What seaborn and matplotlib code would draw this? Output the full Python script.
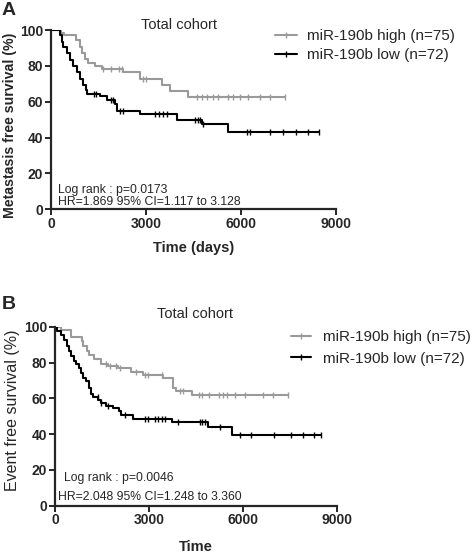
import numpy as np
import pandas as pd
import matplotlib
matplotlib.use("Agg")
import matplotlib.pyplot as plt
import seaborn as sns
from matplotlib.lines import Line2D

# ----------------------------
# Data (Kaplan-Meier steps, percent survival)
# ----------------------------
a_high_t = [0, 330, 400, 790, 915, 970, 1075, 1180, 1390, 1600, 2285, 2810, 3495, 3760, 4340, 7390]
a_high_s = [100, 98.6, 97.3, 94.3, 90.7, 87.0, 84.0, 81.8, 80.0, 78.2, 76.4, 72.9, 69.6, 65.7, 62.5, 62.5]
a_low_t = [0, 285, 335, 390, 495, 600, 705, 810, 915, 1020, 1105, 1150, 1550, 1760, 2020, 2075,
           2810, 3970, 4760, 5600, 8470]
a_low_s = [100, 97.0, 93.5, 90.7, 87.1, 83.5, 80.0, 76.4, 72.9, 69.3, 66.6, 64.5, 63.0, 60.7, 58.9, 55.0,
           53.2, 50.0, 47.3, 43.3, 43.3]
a_high_cens = [1650, 1900, 2150, 2230, 2900, 3000, 4600, 4760, 4920, 5130, 5280, 5600, 5760,
               5970, 6230, 6600, 6920, 7390]
a_low_cens = [1350, 1420, 1880, 1960, 2190, 2280, 3280, 3400, 3550, 3650, 4560, 4650, 4720, 4810,
              6190, 6280, 6900, 7320, 7740, 8110, 8470]

b_high_t = [0, 180, 500, 850, 900, 1020, 1093, 1254, 1468, 1683, 2004, 2433, 2808, 3451, 3773,
            3850, 4362, 7440]
b_high_s = [100, 98.6, 94.6, 91.9, 89.2, 86.6, 84.3, 82.1, 79.5, 78.2, 76.8, 75.0, 73.2, 71.5, 66.0,
            64.4, 61.7, 61.7]
b_low_t = [0, 75, 182, 289, 397, 450, 504, 611, 665, 772, 825, 879, 986, 1093, 1147, 1200, 1361,
           1468, 1629, 1843, 2058, 2111, 2487, 3719, 4898, 5648, 8490]
b_low_s = [100, 98.0, 95.5, 92.8, 89.2, 86.6, 83.9, 81.2, 79.5, 76.8, 74.1, 71.5, 69.7, 66.1, 62.6,
           60.8, 59.0, 57.2, 55.8, 54.6, 52.8, 51.0, 48.7, 46.6, 43.9, 39.6, 39.6]
b_high_cens = [1630, 1740, 1950, 2060, 2590, 2860, 2970, 3400, 3990, 4100, 4580, 4700, 4900,
               5220, 5350, 5500, 5750, 6065, 6650, 6970, 7440]
b_low_cens = [1360, 1470, 1680, 2220, 2860, 2970, 3180, 3290, 3400, 3500, 3930, 4630, 4700, 4790,
              5270, 5900, 6240, 6990, 7530, 7900, 8270, 8490]

x_ticks = [0, 3000, 6000, 9000]
y_ticks = [0, 20, 40, 60, 80, 100]
group_labels = ["miR-190b high (n=75)", "miR-190b low (n=72)"]

GRAY = "#9a9a9a"
BLACK = "#000000"
W, H = 472, 557

sns.set_style("ticks")
plt.rcParams["font.family"] = ["Liberation Sans", "DejaVu Sans"]


def step_frame(times, surv):
    return pd.DataFrame({"time": times, "surv": surv})


def censor_frame(times, surv, cens):
    idx = np.searchsorted(times, cens, side="right") - 1
    return pd.DataFrame({"time": cens, "surv": np.array(surv)[idx]})


def km_panel(ax, curves, ylabel, ylabel_weight, ylabel_size, ylab_xy, xlabel, xlab_y, stats):
    for (t, s, c, color) in curves:
        sns.lineplot(data=step_frame(t, s), x="time", y="surv", ax=ax, color=color,
                     drawstyle="steps-post", estimator=None, sort=False, lw=1.5)
        sns.scatterplot(data=censor_frame(t, s, c), x="time", y="surv", ax=ax, color=color,
                        marker="|", s=16, linewidth=1.0, zorder=3)
    ax.set_xlim(0, 9000)
    ax.set_ylim(0, 100)
    ax.set_xticks(x_ticks)
    ax.set_yticks(y_ticks)
    ax.set_xticklabels([str(v) for v in x_ticks], fontweight="bold", fontsize=10)
    ax.set_yticklabels([str(v) for v in y_ticks], fontweight="bold", fontsize=10)
    ax.tick_params(width=1.4, length=4, pad=1.5)
    for side in ["left", "bottom"]:
        ax.spines[side].set_linewidth(1.6)
    sns.despine(ax=ax)
    ax.set_ylabel(ylabel, fontweight=ylabel_weight, fontsize=ylabel_size)
    ax.yaxis.set_label_coords(*ylab_xy)
    ax.set_xlabel(xlabel, fontweight="bold", fontsize=10.5, va="top")
    ax.xaxis.set_label_coords(0.5, xlab_y)
    for (x, y, s) in stats:
        ax.text(x, y, s, fontsize=8.8, va="center")


fig = plt.figure(figsize=(W / 100, H / 100), dpi=100)

ax_a = fig.add_axes([51 / W, 1 - 209.3 / H, 285 / W, 179.3 / H])
km_panel(ax_a,
         [(a_high_t, a_high_s, a_high_cens, GRAY), (a_low_t, a_low_s, a_low_cens, BLACK)],
         "Metastasis free survival (%)", "bold", 10.2, (-0.12, 0.47), "Time (days)", -0.175,
         [(230, 10.6, "Log rank : p=0.0173"), (230, 3.8, "HR=1.869 95% CI=1.117 to 3.128")])

ax_b = fig.add_axes([55 / W, 1 - 505.7 / H, 282 / W, 178.7 / H])
km_panel(ax_b,
         [(b_high_t, b_high_s, b_high_cens, GRAY), (b_low_t, b_low_s, b_low_cens, BLACK)],
         "Event free survival (%)", "normal", 11.5, (-0.125, 0.535), "Time", -0.19,
         [(297, 15.3, "Log rank : p=0.0046"), (105, 5.0, "HR=2.048 95% CI=1.248 to 3.360")])

# titles, panel letters, legends
fig.text(179 / W, 1 - 25 / H, "Total cohort", fontsize=10.5, ha="center", va="center")
fig.text(195 / W, 1 - 314 / H, "Total cohort", fontsize=10.5, ha="center", va="center")
fig.text(2 / W, 1 - 2 / H, "A", fontsize=14, fontweight="bold", va="top")
fig.text(2 / W, 1 - 296 / H, "B", fontsize=14, fontweight="bold", va="top")

handles = [Line2D([], [], color=GRAY, marker="|", lw=1.5, markersize=4),
           Line2D([], [], color=BLACK, marker="|", lw=1.5, markersize=4)]
fig.legend(handles, group_labels, loc="upper left", bbox_to_anchor=(275 / W, 1 - 29 / H),
           frameon=False, fontsize=11, handlelength=1.45, handletextpad=0.65,
           labelspacing=0.35, borderpad=0, borderaxespad=0)
fig.legend(handles, group_labels, loc="upper left", bbox_to_anchor=(291 / W, 1 - 330 / H),
           frameon=False, fontsize=11, handlelength=1.3, handletextpad=0.8,
           labelspacing=0.5, borderpad=0, borderaxespad=0)

fig.savefig("out.png", dpi=100)
